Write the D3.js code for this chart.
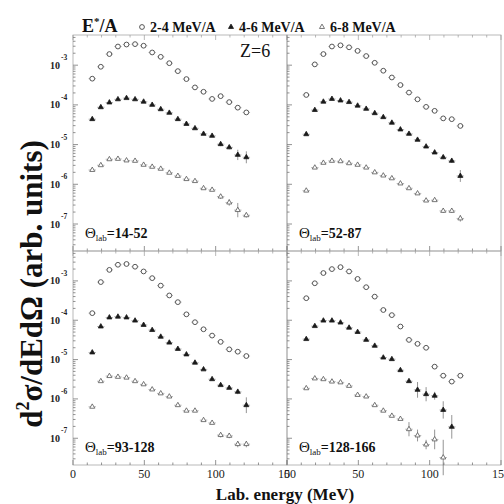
<!DOCTYPE html>
<html><head><meta charset="utf-8">
<script src="https://cdn.jsdelivr.net/npm/d3@7"></script>
<style>html,body{margin:0;padding:0;background:#fff;}svg{display:block;}</style>
</head><body><svg id="c" width="504" height="504"></svg>
<script>
// ---------- data (log10 of d2σ/dEdΩ, arbitrary units) ----------
const energies = [13.5,19.5,25.5,31.5,37.5,43.5,49.5,55.5,61.5,67.5,73.5,79.5,85.5,91.5,97.5,103.5,109.5,115.5,121.5];
const seriesNames = ["2-4 MeV/A","4-6 MeV/A","6-8 MeV/A"];
const panelAngles = ["14-52","52-87","93-128","128-166"];
const xTicks = [0,50,100,150];
const yTickExps = [-3,-4,-5,-6,-7];

// panel 14-52
const p1_24 = [-3.34,-3.04,-2.72,-2.53,-2.48,-2.47,-2.51,-2.68,-2.79,-2.95,-3.15,-3.35,-3.56,-3.67,-3.85,-3.78,-3.93,-4.07,-4.19];
const p1_46 = [-4.36,-4.06,-3.94,-3.86,-3.83,-3.86,-3.92,-4.00,-4.11,-4.20,-4.36,-4.48,-4.59,-4.73,-4.78,-4.99,-5.07,-5.26,-5.32];
const p1_68 = [-5.64,-5.52,-5.37,-5.36,-5.40,-5.41,-5.51,-5.56,-5.61,-5.71,-5.79,-5.87,-5.92,-6.10,-6.14,-6.31,-6.46,-6.65,-6.78];
// panel 52-87
const p2_24 = [-3.75,-2.98,-2.72,-2.53,-2.50,-2.55,-2.64,-2.77,-2.94,-3.14,-3.31,-3.50,-3.69,-3.86,-4.05,-4.15,-4.34,-4.36,-4.53];
const p2_46 = [-4.74,-4.13,-3.92,-3.85,-3.89,-3.93,-4.02,-4.10,-4.21,-4.31,-4.45,-4.62,-4.73,-4.88,-5.05,-5.20,-5.32,-5.41,-5.79];
const p2_68 = [-6.16,-5.58,-5.46,-5.41,-5.42,-5.47,-5.51,-5.58,-5.70,-5.78,-5.85,-5.98,-6.10,-6.23,-6.41,-6.40,-6.67,-6.67,-6.86];
// panel 93-128
const p3_24 = [-3.82,-3.03,-2.72,-2.59,-2.57,-2.64,-2.76,-2.93,-3.12,-3.37,-3.54,-3.85,-4.05,-4.23,-4.39,-4.55,-4.74,-4.80,-4.91];
const p3_46 = [-4.82,-4.16,-3.93,-3.91,-3.93,-4.01,-4.12,-4.25,-4.42,-4.57,-4.73,-4.87,-5.08,-5.25,-5.50,-5.65,-5.72,-5.82,-6.16];
const p3_68 = [-6.20,-5.55,-5.42,-5.44,-5.46,-5.55,-5.63,-5.76,-5.86,-5.94,-6.16,-6.30,-6.30,-6.54,-6.61,-6.92,-6.94,-7.15,-7.15];
// panel 128-166
const p4_24 = [-3.44,-3.06,-2.80,-2.70,-2.65,-2.76,-2.95,-3.16,-3.40,-3.74,-3.87,-4.16,-4.50,-4.60,-4.70,-5.18,-5.41,-5.56,-5.41];
const p4_46 = [-4.48,-4.15,-4.01,-4.01,-4.06,-4.19,-4.30,-4.50,-4.65,-4.95,-4.99,-5.27,-5.55,-5.77,-5.88,-5.92,-6.28,-6.71];
const p4_68 = [-5.73,-5.48,-5.50,-5.56,-5.58,-5.67,-5.90,-5.94,-6.16,-6.30,-6.43,-6.51,-6.77,-6.93,-7.16,-7.03,-7.49];

// vertical error half-lengths (decades)
const p1_46_err = [0,0,0,0,0,0,0,0,0,0,0,0,0,0,0,0.05,0.05,0.13,0.15];
const p1_68_err = [0,0,0,0,0,0,0,0,0,0,0,0,0,0,0,0.06,0.08,0.18,0.06];
const p2_46_err = [0,0,0,0,0,0,0,0,0,0,0,0,0,0,0,0,0.05,0.05,0.15];
const p2_68_err = [0,0,0,0,0,0,0,0,0,0,0,0,0,0,0,0,0.05,0.05,0.08];
const p3_46_err = [0,0,0,0,0,0,0,0,0,0,0,0,0,0,0,0,0,0.06,0.2];
const p3_68_err = [0,0,0,0,0,0,0,0,0,0,0,0,0,0,0,0.06,0.06,0.08,0.08];
const p4_24_err = [0,0,0,0,0,0,0,0,0,0,0,0,0,0,0,0.05,0.05,0.05,0.05];
const p4_46_err = [0,0,0,0,0,0,0,0,0,0,0,0,0,0.2,0.18,0.1,0.22,0.3];
const p4_68_err = [0,0,0,0,0,0,0,0,0,0,0,0,0.18,0.15,0.12,0.25,0.45];

const panels = [
  {angle: panelAngles[0], col:0, row:0, s:[p1_24,p1_46,p1_68], e:[null,p1_46_err,p1_68_err]},
  {angle: panelAngles[1], col:1, row:0, s:[p2_24,p2_46,p2_68], e:[null,p2_46_err,p2_68_err]},
  {angle: panelAngles[2], col:0, row:1, s:[p3_24,p3_46,p3_68], e:[null,p3_46_err,p3_68_err]},
  {angle: panelAngles[3], col:1, row:1, s:[p4_24,p4_46,p4_68], e:[p4_24_err,p4_46_err,p4_68_err]}
];

// ---------- layout ----------
const svg = d3.select("#c");
const SERIF = "'Liberation Serif','Times New Roman',serif";
const colX = [73, 287], panelW = 214;
const rowY = [35, 251], panelH = [216, 214];
const yDomain = [Math.pow(10,-7.68), Math.pow(10,-2.24)];
const frameCol = "#a8a8a8";

const markerType = [
  {shape:"circle"},
  {shape:"tri", fill:"#1a1a1a", stroke:"#1a1a1a"},
  {shape:"tri", fill:"#fff", stroke:"#555"}
];
function drawMarker(g, shape, x, y) {
  if (shape.shape === "circle") {
    g.append("circle").attr("cx",x).attr("cy",y).attr("r",2.4)
      .attr("fill","#fff").attr("stroke","#444").attr("stroke-width",0.9);
  } else {
    g.append("path").attr("transform",`translate(${x},${y})`)
      .attr("d", d3.symbol(d3.symbolTriangle, 11)())
      .attr("fill",shape.fill).attr("stroke",shape.stroke).attr("stroke-width",0.8);
  }
}

panels.forEach(p => {
  const x0 = colX[p.col], y0 = rowY[p.row], h = panelH[p.row];
  const x = d3.scaleLinear().domain([0,150]).range([x0, x0+panelW]);
  const y = d3.scaleLog().domain(yDomain).range([y0+h, y0]);
  const g = svg.append("g");

  // frame
  g.append("rect").attr("x",x0).attr("y",y0).attr("width",panelW).attr("height",h)
    .attr("fill","none").attr("stroke",frameCol).attr("stroke-width",0.8);

  // x ticks (bottom & top, inward)
  const xMinor = d3.range(0,151,10);
  xMinor.forEach(v => {
    const len = v % 50 === 0 ? 5 : 2.5;
    g.append("line").attr("x1",x(v)).attr("x2",x(v)).attr("y1",y0+h).attr("y2",y0+h-len)
      .attr("stroke","#777").attr("stroke-width",0.8);
    g.append("line").attr("x1",x(v)).attr("x2",x(v)).attr("y1",y0).attr("y2",y0+len)
      .attr("stroke","#999").attr("stroke-width",0.7);
  });
  // y ticks (left, inward), log minor
  for (let ex=-8; ex<=-3; ex++) {
    for (let m=1; m<=9; m++) {
      const v = m*Math.pow(10,ex);
      if (v < yDomain[0] || v > yDomain[1]) continue;
      const len = m===1 ? 5 : 2.5;
      g.append("line").attr("x1",x0).attr("x2",x0+len).attr("y1",y(v)).attr("y2",y(v))
        .attr("stroke","#777").attr("stroke-width",0.8);
    }
  }
  // y tick labels (left panels only)
  if (p.col === 0) {
    yTickExps.forEach(ex => {
      const yy = y(Math.pow(10,ex));
      g.append("text").attr("x",x0-13).attr("y",yy+3.5).attr("text-anchor","end")
        .attr("font-family",SERIF).attr("font-weight","bold").attr("font-size",10)
        .attr("fill","#222").text("10");
      g.append("text").attr("x",x0-12).attr("y",yy-5).attr("text-anchor","start")
        .attr("font-family",SERIF).attr("font-weight","bold").attr("font-size",7.5)
        .attr("fill","#222").text(String(ex));
    });
  }
  // x tick labels (bottom panels)
  if (p.row === 1) {
    xTicks.forEach(v => {
      g.append("text").attr("x",x(v)).attr("y",y0+h+13).attr("text-anchor","middle")
        .attr("font-family",SERIF).attr("font-size",12).attr("fill","#222").text(String(v));
    });
  }

  // data
  p.s.forEach((vals, si) => {
    const err = p.e[si];
    vals.forEach((lv, i) => {
      const cx = x(energies[i]), cy = y(Math.pow(10, lv));
      // horizontal bin bar
      g.append("line").attr("x1",x(energies[i]-2.6)).attr("x2",x(energies[i]+2.6))
        .attr("y1",cy).attr("y2",cy).attr("stroke","#888").attr("stroke-width",0.6);
      if (err && err[i] > 0) {
        g.append("line").attr("x1",cx).attr("x2",cx)
          .attr("y1",y(Math.pow(10, lv-err[i]))).attr("y2",y(Math.pow(10, lv+err[i])))
          .attr("stroke","#666").attr("stroke-width",0.7);
      }
      drawMarker(g, markerType[si], cx, cy);
    });
  });

  // panel label
  const t = g.append("text").attr("x",x0+12).attr("y",y0+h-13)
    .attr("font-family",SERIF).attr("font-size",15).attr("fill","#111");
  t.append("tspan").text("Θ");
  t.append("tspan").attr("font-size",9).attr("dy",3).text("lab");
  t.append("tspan").attr("dy",-3).attr("font-weight","bold").attr("font-size",14).text("=" + p.angle);
});

// Z=6
svg.append("text").attr("x",240).attr("y",57).attr("font-family",SERIF)
  .attr("font-size",18).attr("fill","#111").text("Z=6");

// header: E*/A + legend
const hdr = svg.append("text").attr("x",82).attr("y",32).attr("font-family",SERIF)
  .attr("font-weight","bold").attr("font-size",18).attr("fill","#111");
hdr.append("tspan").text("E");
hdr.append("tspan").attr("font-size",11).attr("dy",-7).text("*");
hdr.append("tspan").attr("dy",7).text("/A");

const legendX = [142, 231, 322];
seriesNames.forEach((name, i) => {
  drawMarker(svg, markerType[i], legendX[i], 27);
  svg.append("text").attr("x",legendX[i]+8).attr("y",31.5).attr("font-family",SERIF)
    .attr("font-weight","bold").attr("font-size",14).attr("fill","#111").text(name);
});

// axis titles
const yt = svg.append("text").attr("transform","translate(42,284) rotate(-90)")
  .attr("text-anchor","middle").attr("font-family",SERIF).attr("font-weight","bold")
  .attr("font-size",31).attr("fill","#111");
yt.append("tspan").text("d");
yt.append("tspan").attr("font-size",18).attr("dy",-13).text("2");
yt.append("tspan").attr("dy",13).text("σ/dEdΩ (arb. units)");

svg.append("text").attr("x",285).attr("y",500).attr("text-anchor","middle")
  .attr("font-family",SERIF).attr("font-weight","bold").attr("font-size",17)
  .attr("fill","#111").text("Lab. energy (MeV)");
</script></body></html>
